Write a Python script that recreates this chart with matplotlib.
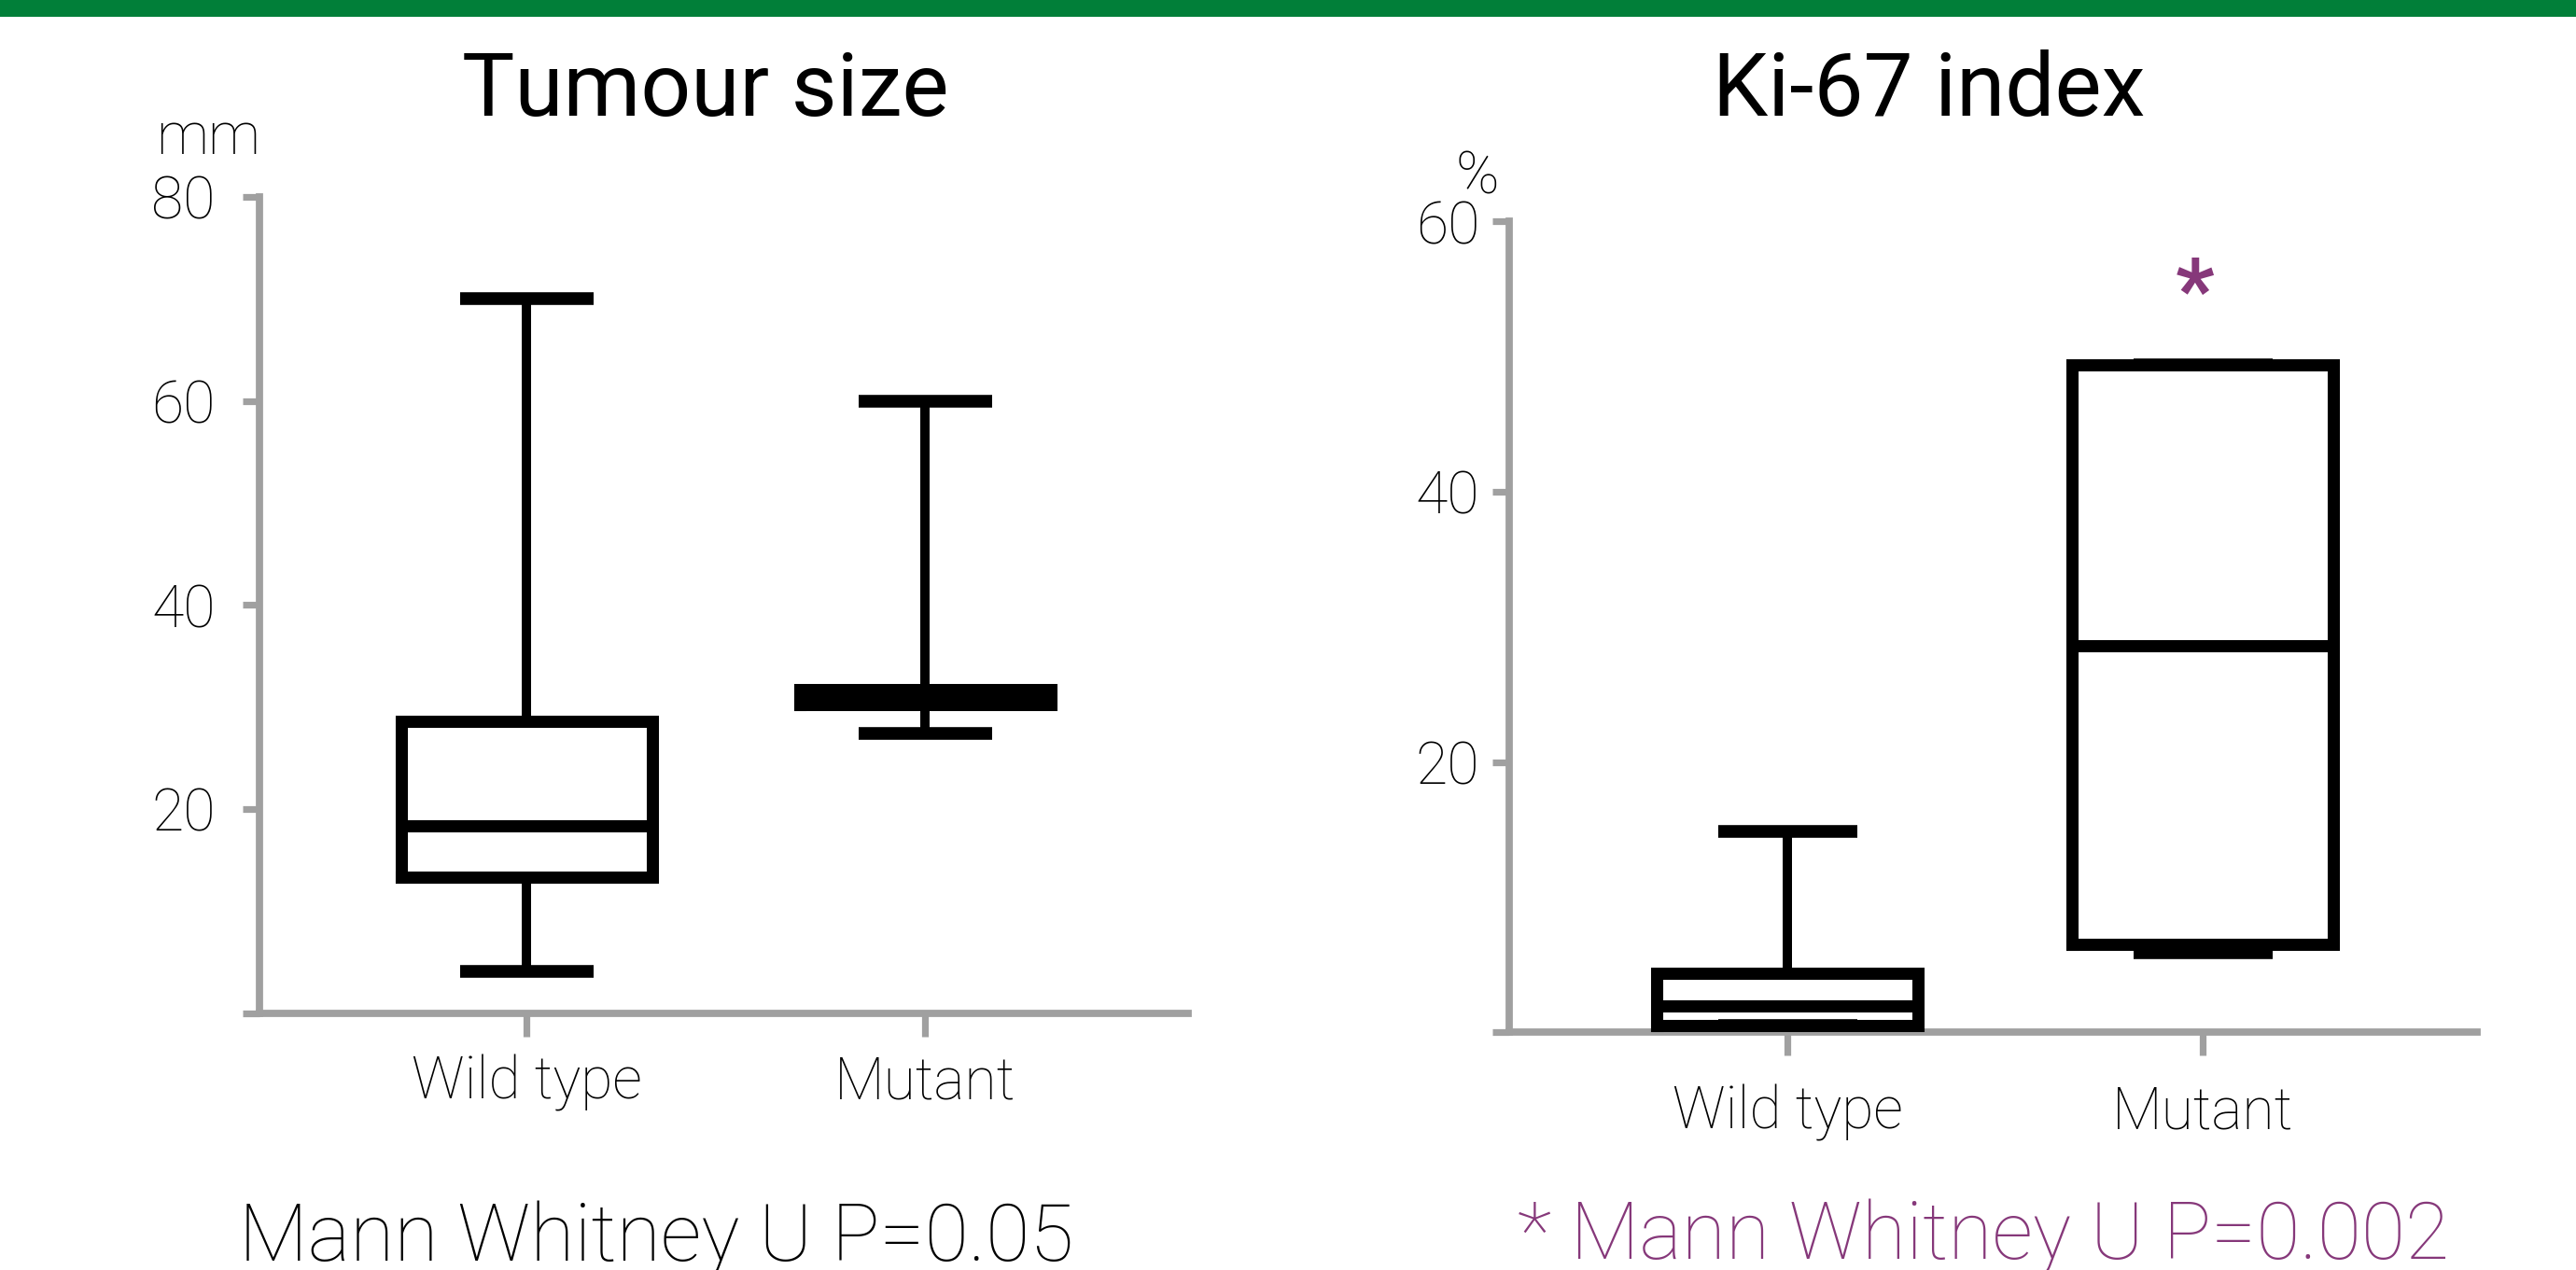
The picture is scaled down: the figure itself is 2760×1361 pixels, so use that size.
import matplotlib
matplotlib.use('Agg')
import matplotlib.pyplot as plt
from matplotlib.patches import Rectangle

plt.rcParams['font.family'] = ['Roboto', 'DejaVu Sans']

groups = ['Wild type', 'Mutant']

# tumour size (mm)
size_whislo = [4.1, 27.4]
size_q1 = [13.3, 30.3]
size_med = [18.4, 31.0]
size_q3 = [28.6, 31.7]
size_whishi = [70.0, 60.0]

# Ki-67 index (%)
ki_whislo = [0.5, 5.9]
ki_q1 = [0.5, 6.5]
ki_med = [2.0, 28.6]
ki_q3 = [4.35, 49.4]
ki_whishi = [14.85, 49.4]

size_ticks = [0, 20, 40, 60, 80]
ki_ticks = [0, 20, 40, 60]

grey = '#A0A0A0'
purple = '#86387A'
green = '#017F39'


def make_stats(lo, q1, med, q3, hi):
    stats = []
    for k in range(len(groups)):
        stats.append(dict(label=groups[k], whislo=lo[k], q1=q1[k], med=med[k],
                          q3=q3[k], whishi=hi[k], fliers=[]))
    return stats


def draw_panel(ax, stats, ticks, ylab_pad, xlab_pad):
    ax.bxp(stats, positions=[1, 2], widths=0.63, capwidths=0.335,
           showfliers=False, manage_ticks=False, zorder=3,
           boxprops=dict(color='black', linewidth=9.4, solid_joinstyle='miter',
                         solid_capstyle='projecting', clip_on=False),
           whiskerprops=dict(color='black', linewidth=7.2, solid_capstyle='butt', clip_on=False),
           capprops=dict(color='black', linewidth=9.8, solid_capstyle='butt', clip_on=False),
           medianprops=dict(color='black', linewidth=9.4, solid_capstyle='butt', clip_on=False))
    ax.set_xlim(0.33, 2.66)
    ax.set_ylim(ticks[0], ticks[-1])
    for s in ['top', 'right']:
        ax.spines[s].set_visible(False)
    for s in ['left', 'bottom']:
        ax.spines[s].set_color(grey)
        ax.spines[s].set_linewidth(5.6)
    ax.set_yticks(ticks)
    ax.set_yticklabels([''] + [str(t) for t in ticks[1:]])
    ax.set_xticks([1, 2])
    ax.set_xticklabels(groups)
    ax.tick_params(axis='y', length=13, width=5.2, color=grey, pad=ylab_pad,
                   labelsize=45)
    ax.tick_params(axis='x', length=18, width=5.2, color=grey, pad=xlab_pad,
                   labelsize=45)
    for lab in ax.get_xticklabels() + ax.get_yticklabels():
        lab.set_fontweight('light')


fig = plt.figure(figsize=(27.6, 13.61), dpi=100)
fig.add_artist(Rectangle((0, 1 - 18 / 1361), 1, 18 / 1361, transform=fig.transFigure,
                         color=green, lw=0))

ax1 = fig.add_axes([0.1007, 0.2021, 0.3605, 0.6429])
draw_panel(ax1, make_stats(size_whislo, size_q1, size_med, size_q3, size_whishi),
           size_ticks, 21, 14)

ax2 = fig.add_axes([0.5859, 0.1870, 0.3757, 0.6385])
draw_panel(ax2, make_stats(ki_whislo, ki_q1, ki_med, ki_q3, ki_whishi),
           ki_ticks, 10, 22)
ax2.text(1.98, 52.8, '*', color=purple, fontsize=66, fontweight='bold',
         ha='center', va='baseline')

fig.text(0.274, 0.9089, 'Tumour size', fontsize=68, ha='center', va='baseline')
fig.text(0.749, 0.9089, 'Ki-67 index', fontsize=68, ha='center', va='baseline')
fig.text(0.0605, 0.8788, 'mm', fontsize=45, fontweight='light', va='baseline')
fig.text(0.5652, 0.8472, '%', fontsize=45, fontweight='light', va='baseline')

fig.text(0.0928, 0.0073, 'Mann Whitney U P=0.05', fontsize=62, fontweight='light',
         va='baseline')
fig.text(0.589, 0.0088, '* Mann Whitney U P=0.002', fontsize=62, fontweight='light',
         color=purple, va='baseline')

fig.savefig('out.png', dpi=100)
